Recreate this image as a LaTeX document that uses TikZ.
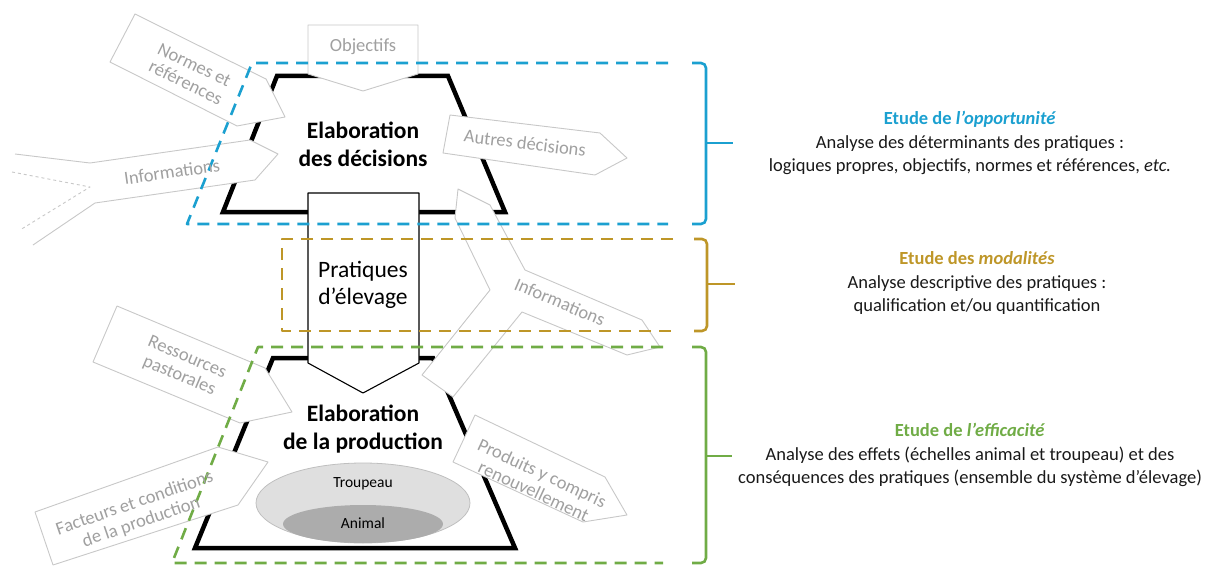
\documentclass[tikz,border=0pt]{standalone}
\usepackage{fontspec}
\setmainfont{Carlito}
\definecolor{bleu}{RGB}{27,160,208}
\definecolor{ocre}{RGB}{190,150,40}
\definecolor{vert}{RGB}{112,172,70}
\definecolor{grisfl}{RGB}{200,200,200}
\definecolor{gristx}{RGB}{160,160,160}
\tikzset{fl/.style={draw=grisfl,fill=white,line width=0.9pt}}
\tikzset{ga/.style={font=\fontsize{18.5}{20}\selectfont,text=gristx,align=center,inner sep=1pt}}
\tikzset{cadre/.style={line width=4.5pt,line join=miter}}
\tikzset{tiret/.style={line width=2.6pt,dash pattern=on 12pt off 8pt}}
\tikzset{acc/.style={line width=2.6pt,rounded corners=5pt}}
\tikzset{tt/.style={font=\fontsize{23.5}{28}\selectfont\bfseries,align=center}}
\tikzset{tx/.style={font=\fontsize{18.5}{23.5}\selectfont,align=center,text=black!90}}

\begin{document}
\begin{tikzpicture}[x=1pt,y=-1pt,line join=round]
  \useasboundingbox (0,0) rectangle (1208,567);
  \draw[cadre] (277,76)--(448,76)--(505,212)--(223,212)--cycle;
  \draw[cadre] (273,358)--(433,358)--(515,548)--(195,548)--cycle;
  \filldraw[draw=gray!50,fill=gray!25,line width=0.8pt] (363,503) ellipse (107 and 40);
  \fill[gray!65] (363,524) ellipse (80 and 19);
  \filldraw[fl] (308,25)--(418,25)--(418,74)--(363,91)--(308,74)--cycle;
  \filldraw[fl] (135,14)--(266,79)--(285,117)--(237,126)--(110,62)--cycle;
  \fill[white] (15,154)--(90,163)--(250,140)--(278,154)--(255,180)--(95,203)--(33,245)--cycle;
  \draw[fl] (15,154)--(90,163)--(250,140)--(278,154)--(255,180)--(95,203)--(33,245);
  \draw[fl,dashed] (12,172)--(90,187)--(20,230);
  \filldraw[fl] (450,115)--(600,133)--(627,158)--(595,175)--(443,153)--cycle;
  \filldraw[fl] (458,189)--(490,205)--(525,270)--(642,320)--(660,347)--(627,355)--(522,312)
    --(453,397)--(422,375)--(490,290)--(455,218)--cycle;
  \filldraw[fl] (117,306)--(265,368)--(292,412)--(240,423)--(93,362)--cycle;
  \filldraw[fl] (35,512)--(218,447)--(268,462)--(238,505)--(53,565)--cycle;
  \filldraw[fl] (475,415)--(605,477)--(627,515)--(583,522)--(453,462)--cycle;
  \filldraw[draw=black,fill=white,line width=1.1pt] (308,193)--(419,193)--(419,363)--(363,393)--(308,363)--cycle;
  \draw[tiret,bleu] (668,63)--(252,63)--(187,224)--(668,224);
  \draw[tiret,ocre] (673,239)--(282,239)--(282,331)--(673,331);
  \draw[tiret,vert] (663,347)--(258,347)--(172,563)--(663,563);
  \draw[acc,bleu] (692,63)--(706,63)--(706,224)--(692,224);
  \draw[acc,bleu] (706,143)--(733,143);
  \draw[acc,ocre] (694,239)--(707,239)--(707,331)--(694,331);
  \draw[acc,ocre] (707,284)--(735,284);
  \draw[acc,vert] (692,347)--(706,347)--(706,563)--(692,563);
  \draw[acc,vert] (706,456)--(732,456);
  \node[ga] (obj) at (363,47) {Objectifs};
  \node[ga,rotate=-26] (nor) at (190,74) {Normes et\\références};
  \node[ga,rotate=8] (inf) at (172,172) {Informations};
  \node[ga,rotate=-7] (aut) at (525,143) {Autres décisions};
  \node[ga,rotate=-23] (inf2) at (560,302) {Informations};
  \node[ga,rotate=-23] (res) at (183,367) {Ressources\\pastorales};
  \node[ga,rotate=19] (fac) at (138,513) {Facteurs et conditions\\de la production};
  \node[ga,rotate=-25] (pro) at (538,482) {Produits y compris\\renouvellement};
  \node[tt] (dec) at (363,144) {Elaboration\\des décisions};
  \node[tt] (prod) at (363,429) {Elaboration\\de la production};
  \node[font=\fontsize{23.5}{26.5}\selectfont,align=center] (prat) at (363,285) {Pratiques\\d’élevage};
  \node[font=\fontsize{15.5}{17}\selectfont] (trp) at (363,484) {Troupeau};
  \node[font=\fontsize{15.5}{17}\selectfont] (ani) at (363,523) {Animal};
  \node[tx] (opp) at (970,143) {\textcolor{bleu}{\bfseries Etude de \textit{l’opportunité}}\\
    Analyse des déterminants des pratiques :\\
    logiques propres, objectifs, normes et références, \textit{etc.}};
  \node[tx] (mod) at (977,283) {\textcolor{ocre}{\bfseries Etude des \textit{modalités}}\\
    Analyse descriptive des pratiques :\\
    qualification et/ou quantification};
  \node[tx] (eff) at (970,455) {\textcolor{vert}{\bfseries Etude de \textit{l’efficacité}}\\
    Analyse des effets (échelles animal et troupeau) et des\\
    conséquences des pratiques (ensemble du système d’élevage)};
\end{tikzpicture}
\end{document}
